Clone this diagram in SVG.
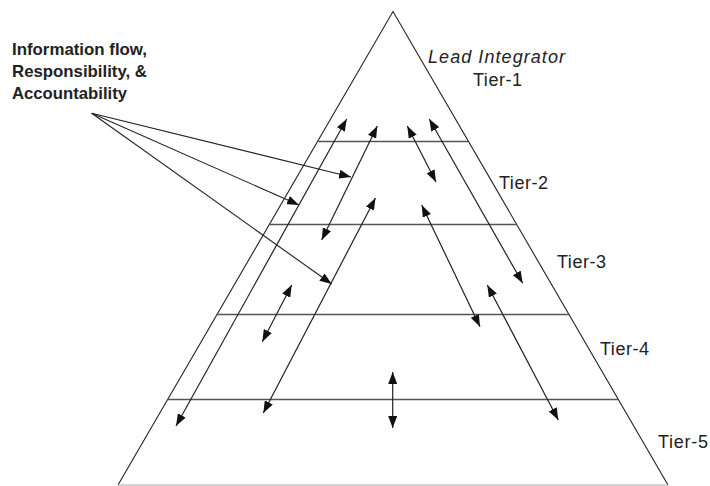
<svg xmlns="http://www.w3.org/2000/svg" width="710" height="486" viewBox="0 0 710 486">
  <style>
    .edge { fill: none; stroke: #222; stroke-width: 1.1; }
    .band { stroke: #555; stroke-width: 1.6; }
    .flow { stroke: #222; stroke-width: 1.2; fill: none; marker-start: url(#head); marker-end: url(#head); }
    .ptr  { stroke: #222; stroke-width: 1.1; fill: none; marker-end: url(#head); }
    .tier { font-family: "Liberation Sans", Arial, sans-serif; font-size: 18px; fill: #222; }
    .lead { font-family: "Liberation Sans", Arial, sans-serif; font-size: 18px; font-style: italic; fill: #222; }
    .note { font-family: "Liberation Sans", Arial, sans-serif; font-size: 17px; font-weight: bold; fill: #222; }
  </style>
  <defs>
    <marker id="head" viewBox="0 0 12 9" refX="12" refY="4.5" markerWidth="12" markerHeight="9" markerUnits="userSpaceOnUse" orient="auto-start-reverse">
      <path d="M0,0 L12,4.5 L0,9 Z" fill="#111"/>
    </marker>
  </defs>
  <rect width="710" height="486" fill="#fff"/>

  <!-- pyramid outline and tier bands -->
  <g id="pyramid">
    <path class="edge" d="M118,485 L393,11.5 L668,485"/>
    <line x1="118" y1="485" x2="668" y2="485" stroke="#aaa" stroke-width="1.2"/>
    <line class="band" x1="317.2" y1="141.5" x2="468.3" y2="141.5"/>
    <line class="band" x1="269" y1="224.5" x2="516.5" y2="224.5"/>
    <line class="band" x1="216.8" y1="314.5" x2="568.8" y2="314.5"/>
    <line class="band" x1="167.5" y1="399.5" x2="618.2" y2="399.5"/>
  </g>

  <!-- tier labels -->
  <g id="tier-1">
    <text class="lead" x="428" y="63" textLength="137" lengthAdjust="spacing">Lead Integrator</text>
    <text class="tier" x="473" y="85.5" textLength="49" lengthAdjust="spacing">Tier-1</text>
  </g>
  <g id="tier-2"><text class="tier" x="499" y="189" textLength="49" lengthAdjust="spacing">Tier-2</text></g>
  <g id="tier-3"><text class="tier" x="557" y="268" textLength="49" lengthAdjust="spacing">Tier-3</text></g>
  <g id="tier-4"><text class="tier" x="600" y="355" textLength="49" lengthAdjust="spacing">Tier-4</text></g>
  <g id="tier-5"><text class="tier" x="658" y="448" textLength="50" lengthAdjust="spacing">Tier-5</text></g>

  <!-- callout text -->
  <g id="legend">
    <text class="note" x="12" y="55" textLength="135" lengthAdjust="spacingAndGlyphs">Information flow,</text>
    <text class="note" x="12" y="77" textLength="135" lengthAdjust="spacingAndGlyphs">Responsibility, &amp;</text>
    <text class="note" x="12" y="99" textLength="115" lengthAdjust="spacingAndGlyphs">Accountability</text>
  </g>

  <g id="connectors">
    <!-- callout pointers -->
    <line class="ptr" x1="91.7" y1="113.3" x2="351" y2="177"/>
    <line class="ptr" x1="91.7" y1="113.3" x2="299" y2="205"/>
    <line class="ptr" x1="91.7" y1="113.3" x2="331.7" y2="284"/>
    <!-- two-way flows, left side -->
    <line class="flow" x1="346.7" y1="119" x2="176" y2="426"/>
    <line class="flow" x1="377.3" y1="126" x2="321.7" y2="240"/>
    <line class="flow" x1="375.5" y1="198" x2="263.3" y2="413"/>
    <line class="flow" x1="291.7" y1="285" x2="262.3" y2="341.7"/>
    <line class="flow" x1="392.7" y1="372" x2="392.7" y2="428"/>
    <!-- two-way flows, right side -->
    <line class="flow" x1="407.3" y1="126" x2="436" y2="182"/>
    <line class="flow" x1="429.3" y1="119" x2="522.7" y2="283.3"/>
    <line class="flow" x1="421.7" y1="205" x2="480" y2="326.7"/>
    <line class="flow" x1="487.3" y1="285" x2="558.3" y2="420"/>
  </g>
</svg>
